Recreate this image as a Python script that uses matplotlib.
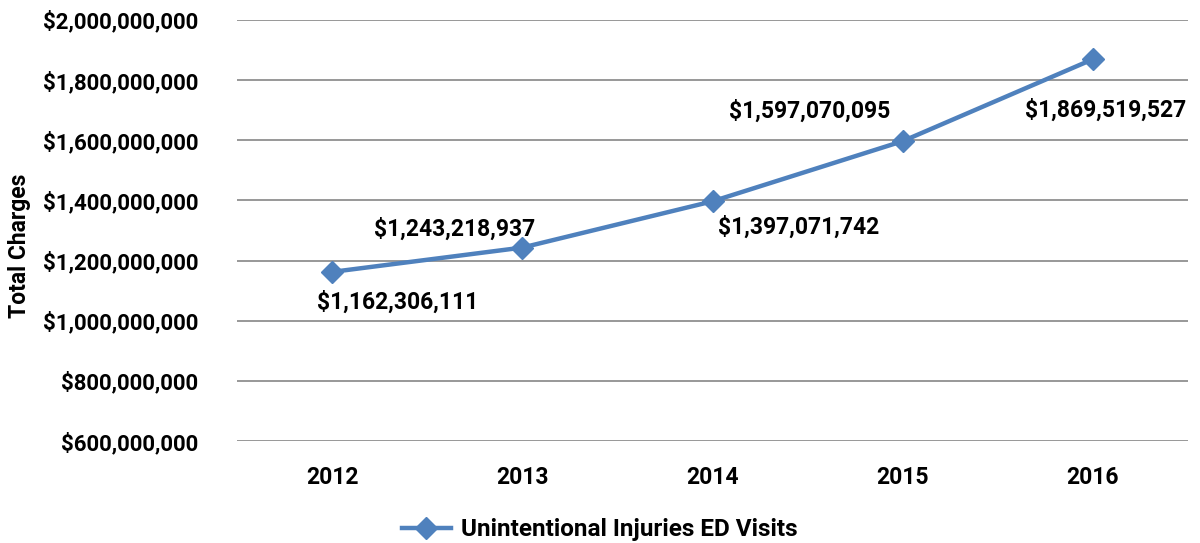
import matplotlib
matplotlib.use("Agg")
import matplotlib.pyplot as plt
from matplotlib.ticker import FuncFormatter

years = ["2012", "2013", "2014", "2015", "2016"]
charges = [1162306111, 1243218937, 1397071742, 1597070095, 1869519527]
series_name = "Unintentional Injuries ED Visits"
label_offsets = [(66, -30), (-68, 18), (86, -26), (-93, 30), (13, -51)]

plt.rcParams['font.family'] = ['Roboto', 'DejaVu Sans']
plt.rcParams['font.weight'] = 'bold'
FS = 16.5

fig = plt.figure(figsize=(12, 5.43), dpi=100)
ax = fig.add_axes([0.1975, 0.1878, 0.7925, 0.7754])

color = '#4F81BD'
x = list(range(len(years)))
ax.plot(x, charges, color=color, lw=3.2, marker='D', markersize=11,
        label=series_name, zorder=3)

for xi, v, (dx, dy) in zip(x, charges, label_offsets):
    ax.annotate(f"${v:,.0f}", (xi, v), xytext=(dx, dy), textcoords='offset pixels',
                ha='center', va='center', fontsize=FS, fontweight='bold', color='black')

ax.set_xlim(-0.5, len(years) - 0.5)
ax.set_ylim(600_000_000, 2_000_000_000)
ax.set_yticks(range(600_000_000, 2_000_000_001, 200_000_000))
ax.yaxis.set_major_formatter(FuncFormatter(lambda v, p: f"${v:,.0f}"))
ax.set_xticks(x)
ax.set_xticklabels(years)
ax.grid(axis='y', color='#868686', lw=1.2)
ax.set_axisbelow(True)
for s in ax.spines.values():
    s.set_visible(False)
ax.tick_params(axis='x', length=0, labelsize=FS, pad=18)
ax.tick_params(axis='y', length=0, labelsize=16, pad=28)
for lbl in ax.get_xticklabels() + ax.get_yticklabels():
    lbl.set_fontweight('bold')

fig.text(0.016, 0.548, "Total Charges", rotation=90, ha='center', va='center',
         fontsize=FS, fontweight='bold')

leg = fig.legend(loc='center', bbox_to_anchor=(0.5, 0.024), frameon=False,
                 prop={'size': 17.5, 'weight': 'bold'}, handlelength=2.0, handletextpad=0.45)

fig.savefig("out.png", dpi=100)
